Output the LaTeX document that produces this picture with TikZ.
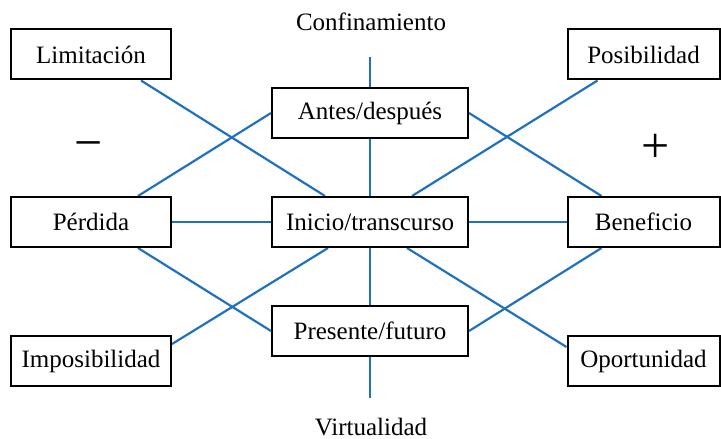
\documentclass[tikz,border=0pt]{standalone}
\usepackage{fontspec}
\setmainfont{Liberation Serif}
\definecolor{LineBlue}{RGB}{33,114,190}
\usetikzlibrary{positioning,backgrounds}
\tikzset{>=latex}
\begin{document}
\begin{tikzpicture}[x=0.5pt,y=-0.5pt,
        box/.style={draw,line width=1pt,fill=white,minimum height=25pt,inner sep=0pt,font=\fontsize{12.5}{15}\selectfont},
        sidebox/.style={box,minimum width=80pt},
        rightbox/.style={box,minimum width=76pt},
        midbox/.style={box,minimum width=98pt},
        sign/.style={font=\fontsize{25}{28}\selectfont,inner sep=0pt},
        link/.style={LineBlue,line width=1.1pt}]
        \useasboundingbox (0,0) rectangle (721,438);
        % axis labels
        \node[font=\fontsize{12.5}{15}\selectfont] at (371,22) (conf) {Confinamiento};
        \node[font=\fontsize{12.5}{15}\selectfont] at (371,427) (virt) {Virtualidad};
        \coordinate (vtop) at (370,57);
        \coordinate (vbot) at (370,398);
        % left column
        \node[sidebox] at (91,54.5) (lim) {Limitación};
        \node[sidebox] at (91,222) (per) {Pérdida};
        \node[sidebox] at (91,361) (imp) {Imposibilidad};
        % middle column
        \node[midbox] at (370,113) (ant) {Antes/después};
        \node[midbox] at (370,222) (ini) {Inicio/transcurso};
        \node[midbox] at (370,331) (pre) {Presente/futuro};
        % right column
        \node[rightbox] at (643.5,54.5) (pos) {Posibilidad};
        \node[rightbox] at (643.5,222) (ben) {Beneficio};
        \node[rightbox] at (643.5,361) (opo) {Oportunidad};
        % signs
        \node[sign] at (89,151) (neg) {−};
        \node[sign] at (656,148) (pls) {+};
        \begin{scope}[on background layer]
            \draw[link] (vtop) -- (ant.north);
            \draw[link] (ant.south) -- (ini.north);
            \draw[link] (ini.south) -- (pre.north);
            \draw[link] (pre.south) -- (vbot);
            \draw[link] (per.east) -- (ini.west);
            \draw[link] (ini.east) -- (ben.west);
            \draw[link] ([xshift=25pt]lim.south) -- ([xshift=-22.5pt]ini.north);
            \draw[link] ([xshift=23.5pt]per.north) -- (ant.west);
            \draw[link] ([xshift=-23pt]pos.south) -- ([xshift=21pt]ini.north);
            \draw[link] (ant.east) -- ([xshift=-21pt]ben.north);
            \draw[link] ([xshift=23.5pt]per.south) -- (pre.west);
            \draw[link] ([xshift=-21pt]ini.south) -- ([yshift=8.5pt]imp.east);
            \draw[link] ([xshift=18.5pt]ini.south) -- ([yshift=7pt]opo.west);
            \draw[link] (pre.east) -- ([xshift=-21pt]ben.south);
        \end{scope}
\end{tikzpicture}
\end{document}
